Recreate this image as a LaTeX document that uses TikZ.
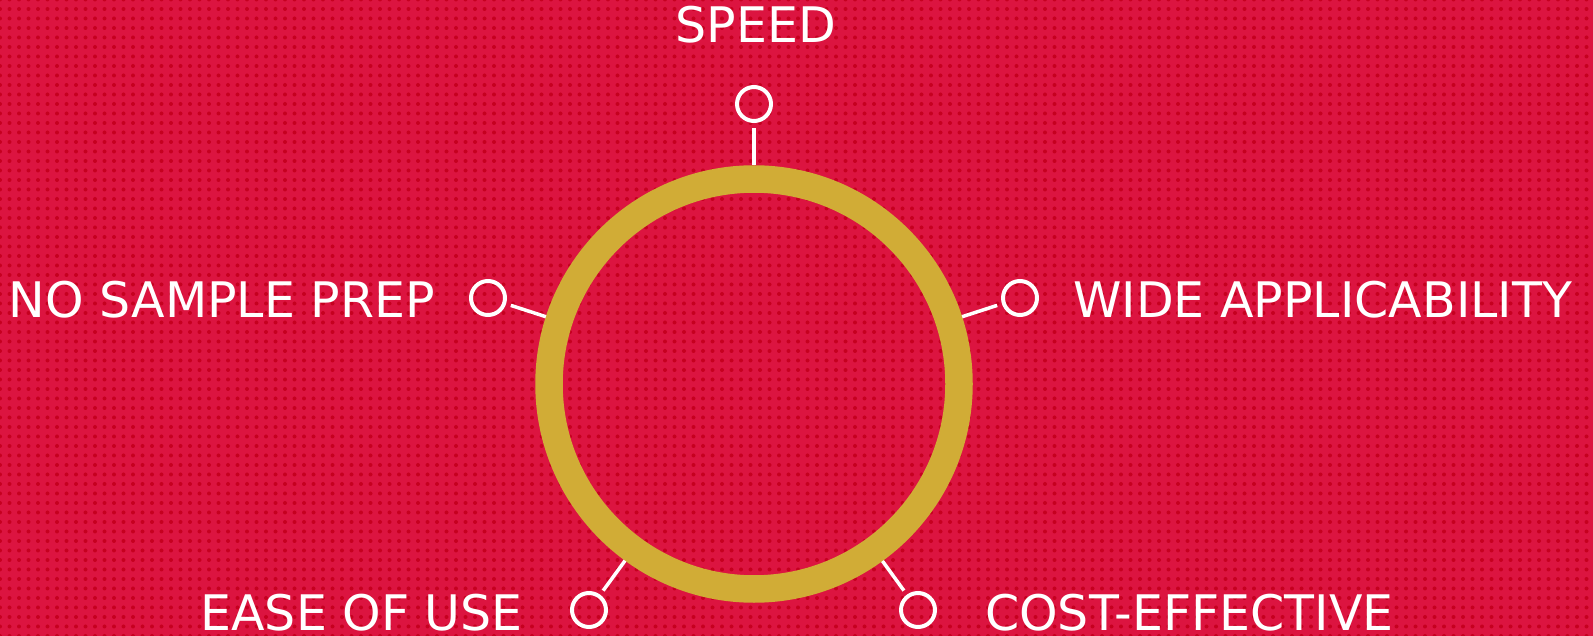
\documentclass[tikz,border=0pt]{standalone}
\usepackage{fontspec}
\setmainfont{DejaVu Sans}
\usepackage{xcolor}
\usetikzlibrary{patterns.meta}

\definecolor{bgred}{HTML}{DC1440}
\definecolor{dotred}{HTML}{C6001F}
\definecolor{gold}{HTML}{D1AC36}

\begin{document}
\begin{tikzpicture}[
  x=1pt, y=-1pt,
  ring/.style={circle, draw=gold, line width=27.5pt, minimum size=410pt, inner sep=0pt},
  dot/.style={circle, draw=white, line width=4pt, minimum size=34pt, inner sep=0pt},
  spoke/.style={draw=white, line width=3.5pt, shorten >=5pt},
  lbl/.style={text=white, inner sep=0pt, font=\fontsize{49}{58}\selectfont}
]
% background
\fill[bgred] (0,0) rectangle (1593,636);
\fill[pattern={Dots[distance=9.5pt, radius=2pt]}, pattern color=dotred] (0,0) rectangle (1593,636);
\useasboundingbox (0,0) rectangle (1593,636);

\node[ring] (ring) at (754,384) {};

\node[dot] (dspeed) at (754,104) {};
\node[dot] (dwide) at (1020,298) {};
\node[dot] (dcost) at (918,610) {};
\node[dot] (dease) at (589,610) {};
\node[dot] (dprep) at (488,298) {};

\node[lbl, anchor=base] (speed) at (756,43) {SPEED};
\node[lbl, anchor=base west] (wide) at (1073,318) {WIDE APPLICABILITY};
\node[lbl, anchor=base west] (cost) at (985,630) {COST-EFFECTIVE};
\node[lbl, anchor=base east] (ease) at (523,630) {EASE OF USE};
\node[lbl, anchor=base east] (prep) at (435,318) {NO SAMPLE PREP};

\draw[spoke] (ring) -- (dspeed);
\draw[spoke] (ring) -- (dwide);
\draw[spoke] (ring) -- (dcost);
\draw[spoke] (ring) -- (dease);
\draw[spoke] (ring) -- (dprep);
\end{tikzpicture}
\end{document}
